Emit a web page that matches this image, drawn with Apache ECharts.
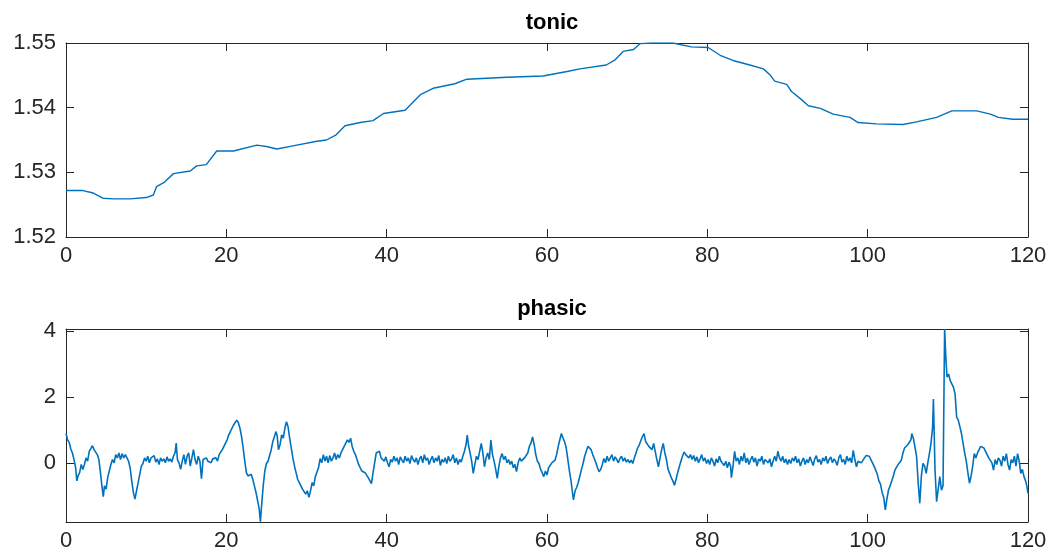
<!DOCTYPE html>
<html>
<head>
<meta charset="utf-8">
<script src="https://cdn.jsdelivr.net/npm/echarts@6/dist/echarts.min.js"></script>
<style>html,body{margin:0;padding:0;background:#fff}#c{width:1052px;height:560px}</style>
</head>
<body>
<div id="c"></div>
<script>
var xTicks = [0, 20, 40, 60, 80, 100, 120];
var tonicTicks = [1.52, 1.53, 1.54, 1.55];
var phasicTicks = [0, 2, 4];

var tonicX = [0,2,3.4,4.6,6,8,10,10.9,11.3,12.3,13.4,15.5,16.3,17.5,18.8,20.9,23.8,25,26.3,28.3,31.3,32.5,33.7,34.8,36.7,38.3,39.6,42.3,44.2,45.8,48.5,50,55,59.5,62.5,64.1,67.4,68.5,69.5,70.8,71.6,73,75.7,78,80.1,81.6,83.2,85.3,87,87.8,88.4,89.9,90.5,91.6,92.6,94.1,95.7,97.8,98.8,101.1,104.4,106.1,108.6,110.5,113.6,115.3,116.3,118.1,120];
var tonicY = [1.5272,1.5272,1.5268,1.5260,1.5259,1.5259,1.5261,1.5265,1.5278,1.5285,1.5298,1.5302,1.5310,1.5312,1.5333,1.5333,1.5342,1.5340,1.5336,1.5341,1.5348,1.5350,1.5358,1.5372,1.5377,1.5380,1.5391,1.5396,1.5420,1.5430,1.5437,1.5444,1.5447,1.5449,1.5456,1.5460,1.5466,1.5474,1.5487,1.5490,1.5499,1.5500,1.5500,1.5494,1.5493,1.5481,1.5473,1.5466,1.5460,1.5451,1.5441,1.5436,1.5425,1.5414,1.5403,1.5399,1.5390,1.5385,1.5377,1.5375,1.5374,1.5378,1.5385,1.5395,1.5395,1.5390,1.5385,1.5382,1.5382];

var phasicX = [
0,0.2,0.4,0.6,0.8,1.0,1.2,1.35,1.5,1.7,1.9,2.1,2.3,2.5,2.7,2.9,3.1,3.3,3.5,3.7,3.9,4.1,4.3,4.5,4.65,4.8,5.0,5.2,5.4,5.6,5.8,6.0,6.2,6.4,6.6,6.8,7.0,7.2,7.4,7.6,7.8,8.0,8.2,8.4,8.6,8.8,9.0,9.2,9.4,9.6,9.8,10.0,
10.2,10.4,10.6,10.8,11.0,11.2,11.4,11.6,11.8,12.0,12.2,12.4,12.6,12.8,13.0,13.2,13.4,13.6,13.75,13.9,14.1,14.3,14.5,14.7,14.9,15.1,15.3,15.5,15.7,15.9,16.1,16.3,16.5,16.7,16.9,17.1,17.3,17.5,17.7,17.9,18.1,18.3,18.5,18.7,18.9,
19.1,19.3,19.5,19.7,19.9,20.1,20.3,20.5,20.7,20.9,21.1,21.3,21.5,21.7,21.9,22.1,22.3,22.5,22.7,22.9,23.1,23.3,23.5,23.7,23.9,24.1,24.25,24.4,24.6,24.8,25.0,25.2,25.4,25.6,25.8,26.0,26.2,26.35,26.5,26.7,26.9,27.1,27.3,27.5,27.7,27.9,28.1,28.3,28.5,28.7,28.9,29.1,29.3,29.5,29.7,29.9,30.1,30.3,
30.5,30.7,30.9,31.1,31.3,31.5,31.7,31.9,32.1,32.3,32.5,32.7,32.9,33.1,33.3,33.5,33.7,33.9,34.1,34.3,34.5,34.7,34.9,35.1,35.3,35.5,35.7,35.9,36.1,36.3,36.5,36.7,36.9,37.1,37.3,37.5,37.7,37.9,38.1,38.3,38.5,38.7,38.9,39.1,39.3,39.5,39.7,39.9,
40.1,40.3,40.5,40.7,40.9,41.1,41.3,41.5,41.7,41.9,42.1,42.3,42.5,42.7,42.9,43.1,43.3,43.5,43.7,43.9,44.1,44.3,44.5,44.7,44.9,45.1,45.3,45.5,45.7,45.9,46.1,46.3,46.5,46.7,46.9,47.1,47.3,47.5,47.7,47.9,48.1,48.3,48.5,48.7,48.9,49.1,49.3,49.5,49.7,
49.9,50.05,50.2,50.4,50.6,50.8,51.0,51.2,51.4,51.6,51.8,52.0,52.2,52.4,52.6,52.8,53.0,53.2,53.4,53.6,53.8,54.0,54.2,54.4,54.6,54.8,55.0,55.2,55.4,55.6,55.8,56.0,56.2,56.4,56.6,56.8,57.0,57.2,57.4,57.6,57.8,58.0,58.2,58.4,58.6,58.8,59.0,59.2,59.4,59.6,59.8,60.0,
60.2,60.4,60.6,60.8,61.0,61.2,61.4,61.6,61.8,62.0,62.2,62.4,62.6,62.8,63.0,63.15,63.3,63.5,63.7,63.9,64.1,64.3,64.5,64.7,64.9,65.1,65.3,65.5,65.7,65.9,66.1,66.3,66.5,66.7,66.9,67.1,67.3,67.5,67.7,67.9,68.1,68.3,68.5,68.7,68.9,69.1,69.3,69.5,69.7,69.9,
70.1,70.3,70.5,70.7,70.9,71.1,71.3,71.5,71.7,71.9,72.1,72.3,72.5,72.7,72.9,73.1,73.3,73.5,73.7,73.9,74.1,74.3,74.5,74.7,74.9,75.1,75.3,75.5,75.7,75.9,76.1,76.3,76.5,76.7,76.9,77.1,77.3,77.5,77.7,77.9,78.1,78.3,78.5,78.7,78.9,79.1,79.3,79.5,79.7,79.9,
80.1,80.3,80.5,80.7,80.9,81.1,81.3,81.5,81.7,81.9,82.1,82.3,82.5,82.7,82.9,83.0,83.2,83.4,83.6,83.8,84.0,84.2,84.4,84.6,84.8,85.0,85.2,85.4,85.6,85.8,86.0,86.2,86.4,86.6,86.8,87.0,87.2,87.4,87.6,87.8,88.0,88.2,88.4,88.6,88.8,89.0,89.2,89.4,89.6,89.8,90.0,
90.2,90.4,90.6,90.8,91.0,91.2,91.4,91.6,91.8,92.0,92.2,92.4,92.6,92.8,93.0,93.2,93.4,93.6,93.8,94.0,94.2,94.4,94.6,94.8,95.0,95.2,95.4,95.6,95.8,96.0,96.2,96.4,96.6,96.8,97.0,97.2,97.4,97.6,97.8,98.0,98.2,98.4,98.6,98.8,99.0,99.2,99.4,99.6,99.8,100.0,
100.2,100.4,100.6,100.8,101.0,101.2,101.4,101.6,101.8,102.0,102.2,102.4,102.6,102.8,103.0,103.2,103.4,103.6,103.8,104.0,104.2,104.4,104.6,104.8,105.0,105.2,105.4,105.5,105.7,105.9,106.1,106.3,106.5,106.7,106.9,107.1,107.3,107.5,107.7,107.9,108.1,108.2,108.3,108.4,108.5,108.6,108.8,109.0,109.2,109.4,109.6,109.75,109.9,
110.1,110.3,110.5,110.7,110.9,111.1,111.3,111.5,111.7,111.9,112.1,112.3,112.5,112.7,112.9,113.1,113.3,113.5,113.7,113.9,114.1,114.3,114.5,114.7,114.9,115.1,115.3,115.5,115.7,115.9,116.1,116.3,116.5,116.7,116.9,117.1,117.3,117.5,117.7,117.9,118.1,118.3,118.5,118.7,118.9,119.1,119.3,119.5,119.7,119.85,120.0];
var phasicY = [
0.89,0.70,0.62,0.42,0.30,0.10,-0.15,-0.55,-0.40,-0.30,-0.05,-0.20,-0.05,0.15,0.05,0.35,0.30,0.52,0.40,0.45,0.25,0.10,-0.30,-0.75,-1.03,-0.70,-0.80,-0.45,-0.25,-0.05,0.10,0.00,0.25,0.15,0.30,0.10,0.28,0.15,0.25,0.20,0.05,-0.15,-0.55,-0.90,-1.10,-0.85,-0.60,-0.35,-0.10,-0.02,0.15,0.05,
0.20,0.00,0.15,0.10,0.22,0.02,0.12,-0.05,0.15,0.05,0.12,0.00,0.18,0.05,0.12,0.02,0.20,0.30,0.60,0.10,0.00,-0.20,0.05,0.25,-0.05,0.20,0.30,-0.10,0.15,0.40,0.10,-0.05,0.20,0.05,-0.48,0.10,0.05,0.15,0.05,0.10,0.00,0.12,0.08,0.15,0.05,
0.25,0.20,0.40,0.50,0.60,0.70,0.85,0.95,1.00,1.15,1.20,1.30,1.22,1.05,0.80,0.45,0.05,-0.30,-0.40,-0.45,-0.35,-0.50,-0.70,-0.90,-1.15,-1.40,-1.79,-1.30,-0.70,-0.25,-0.02,0.05,0.10,0.40,0.65,0.80,0.95,0.80,0.40,0.55,0.85,0.75,1.05,1.25,1.10,0.75,0.45,0.15,-0.10,-0.30,-0.50,-0.60,-0.65,-0.80,-0.75,-0.95,-0.85,-1.05,
-0.85,-0.60,-0.70,-0.42,-0.45,-0.15,0.13,0.00,0.25,0.05,0.20,0.00,0.22,0.05,0.15,0.30,0.10,0.25,0.15,0.30,0.35,0.50,0.55,0.70,0.62,0.75,0.50,0.35,0.25,0.10,-0.05,-0.15,-0.25,-0.20,-0.30,-0.35,-0.45,-0.40,-0.63,-0.30,0.00,0.30,0.25,0.35,0.15,0.20,0.05,0.18,
0.00,-0.12,0.10,0.02,0.20,0.05,0.15,-0.05,0.18,0.08,0.00,0.20,0.05,0.15,-0.02,0.22,0.10,0.02,0.15,-0.05,0.12,0.20,0.00,0.25,0.08,0.15,-0.05,0.10,0.20,0.00,0.15,0.05,0.22,-0.08,0.10,0.02,0.15,-0.02,0.20,0.05,0.12,0.25,0.00,0.15,-0.05,0.10,0.02,0.20,0.35,
0.55,0.84,0.55,0.30,0.05,-0.32,-0.05,0.20,0.10,0.35,0.59,0.30,-0.12,0.15,0.30,0.10,0.69,0.25,0.05,-0.20,-0.47,-0.10,0.15,0.28,0.10,0.20,0.00,0.10,-0.05,0.05,-0.15,-0.05,-0.27,0.00,0.15,0.05,0.08,0.15,0.20,0.30,0.50,0.60,0.79,0.55,0.25,0.05,-0.02,-0.20,-0.30,-0.42,-0.25,-0.37,
-0.15,-0.20,0.00,-0.05,0.08,0.25,0.50,0.70,0.89,0.75,0.64,0.45,0.10,-0.25,-0.55,-0.85,-1.13,-0.85,-0.75,-0.60,-0.40,-0.20,-0.02,0.20,0.35,0.50,0.54,0.40,0.25,0.13,0.00,-0.15,-0.27,-0.20,-0.05,0.13,0.00,0.20,0.05,0.15,0.25,0.05,0.18,0.10,0.00,0.13,0.20,0.05,0.15,0.02,
0.10,0.00,0.08,-0.02,0.15,0.30,0.45,0.54,0.60,0.80,0.89,0.65,0.70,0.50,0.55,0.40,0.59,0.35,0.10,-0.12,0.15,0.40,0.59,0.30,0.10,-0.20,-0.32,-0.45,-0.55,-0.68,-0.50,-0.30,-0.12,0.05,0.20,0.33,0.25,0.30,0.15,0.25,0.10,0.22,0.05,0.18,0.00,0.12,0.25,0.05,0.15,-0.02,
0.10,-0.05,0.15,0.05,-0.10,0.12,0.00,0.20,0.05,0.10,-0.08,0.05,-0.15,0.02,-0.10,-0.45,-0.10,0.35,0.05,0.15,-0.05,0.20,0.05,0.30,0.00,0.15,-0.05,0.10,0.20,0.02,0.15,-0.10,0.12,0.05,0.20,-0.05,0.10,0.15,0.00,0.12,-0.12,0.05,0.20,0.05,0.35,0.15,0.05,0.20,0.00,0.12,-0.05,
0.10,-0.02,0.15,0.05,0.20,0.00,0.12,-0.10,0.05,0.15,-0.05,0.10,0.00,0.18,0.05,-0.08,0.12,0.22,0.02,0.10,-0.05,0.15,0.05,0.20,-0.02,0.10,0.18,0.00,0.12,0.05,-0.08,0.15,0.25,0.02,0.10,-0.05,0.20,0.05,0.15,0.00,0.38,0.10,-0.12,0.05,0.10,0.00,0.05,0.15,0.22,0.28,
0.20,0.10,0.00,-0.10,-0.15,-0.35,-0.55,-0.65,-0.90,-1.05,-1.43,-1.10,-0.83,-0.70,-0.55,-0.40,-0.22,-0.25,-0.05,0.00,0.08,0.30,0.45,0.40,0.55,0.60,0.70,0.89,0.75,0.48,0.20,-0.60,-1.23,-0.40,-0.02,-0.10,-0.32,0.00,0.28,0.60,1.08,1.94,0.90,-0.22,-0.70,-1.18,-0.80,-0.42,-0.83,-0.70,4.07,3.20,2.61,
2.70,2.50,2.55,2.30,2.10,1.39,1.30,1.10,0.89,0.60,0.30,0.05,-0.30,-0.62,-0.40,-0.10,0.28,0.15,0.30,0.40,0.50,0.54,0.45,0.35,0.40,0.15,0.18,0.00,-0.22,0.10,-0.05,0.15,0.08,-0.10,0.20,0.05,0.28,-0.05,-0.22,0.10,0.00,0.20,-0.10,0.28,0.05,-0.32,-0.20,-0.42,-0.55,-0.70,-0.93];

function pairs(xs, ys) { return xs.map(function (x, i) { return [x, ys[i]]; }); }

var FONT = 'Liberation Sans, Arial, Helvetica, sans-serif';
var AX = '#262626';
var LINE = '#0072BD';

function xAxisFor(grid, showLabel) {
  return {
    type: 'value', gridIndex: grid, min: 0, max: 120, interval: 20,
    position: showLabel ? 'bottom' : 'top',
    axisLine: { show: true, onZero: false, lineStyle: { color: AX, width: 1 } },
    axisTick: { show: true, inside: true, length: 8, customValues: xTicks, lineStyle: { color: AX } },
    axisLabel: { show: showLabel, color: AX, fontSize: 22, fontFamily: FONT, margin: 8, customValues: xTicks },
    splitLine: { show: false }
  };
}
function yAxisFor(grid, mn, mx, ticks, dec, showLabel) {
  return {
    type: 'value', gridIndex: grid, min: mn, max: mx,
    position: showLabel ? 'left' : 'right',
    axisLine: { show: true, onZero: false, lineStyle: { color: AX, width: 1 } },
    axisTick: { show: true, inside: true, length: 8, customValues: ticks, lineStyle: { color: AX } },
    axisLabel: { show: showLabel, color: AX, fontSize: 22, fontFamily: FONT, margin: 10,
      customValues: ticks, formatter: function (v) { return v.toFixed(dec); } },
    splitLine: { show: false }
  };
}

var chart = echarts.init(document.getElementById('c'), null, { renderer: 'canvas' });
chart.setOption({
  backgroundColor: '#ffffff',
  animation: false,
  title: [
    { text: 'tonic', left: 547, top: 7, textAlign: 'center',
      textStyle: { fontSize: 22, fontWeight: 'bold', color: '#000', fontFamily: FONT } },
    { text: 'phasic', left: 547, top: 293, textAlign: 'center',
      textStyle: { fontSize: 22, fontWeight: 'bold', color: '#000', fontFamily: FONT } }
  ],
  grid: [
    { left: 66, top: 43, width: 962, height: 194 },
    { left: 66, top: 329, width: 962, height: 193 }
  ],
  xAxis: [xAxisFor(0, true), xAxisFor(0, false), xAxisFor(1, true), xAxisFor(1, false)],
  yAxis: [
    yAxisFor(0, 1.52, 1.55, tonicTicks, 2, true), yAxisFor(0, 1.52, 1.55, tonicTicks, 2, false),
    yAxisFor(1, -1.8, 4.07, phasicTicks, 0, true), yAxisFor(1, -1.8, 4.07, phasicTicks, 0, false)
  ],
  series: [
    { type: 'line', xAxisIndex: 0, yAxisIndex: 0, data: pairs(tonicX, tonicY), showSymbol: false,
      lineStyle: { color: LINE, width: 1.4 }, clip: true },
    { type: 'line', xAxisIndex: 2, yAxisIndex: 2, data: pairs(phasicX, phasicY), showSymbol: false,
      lineStyle: { color: LINE, width: 1.6 }, clip: true }
  ]
});
</script>
</body>
</html>
